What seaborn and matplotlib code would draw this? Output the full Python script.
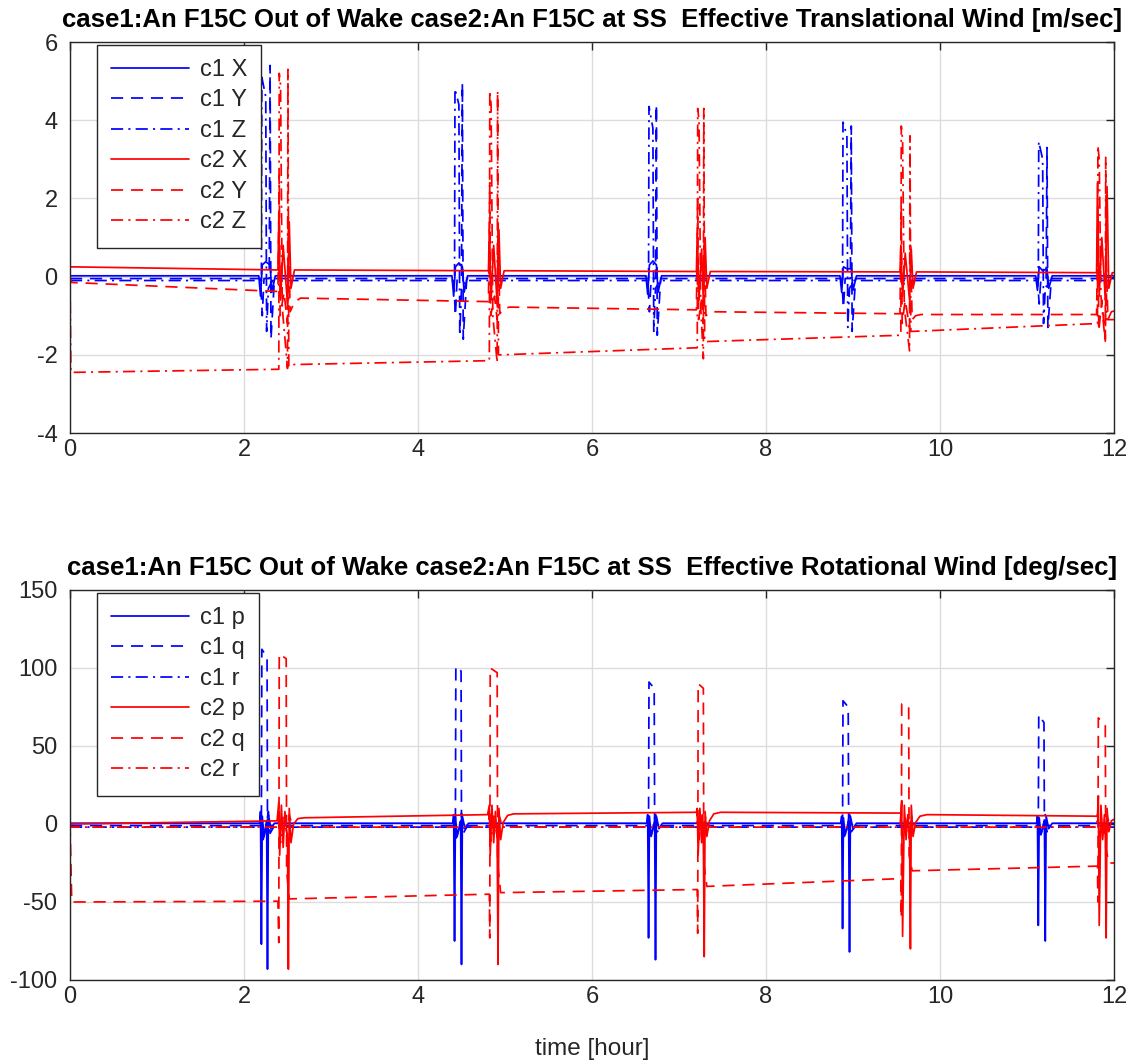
import numpy as np
import pandas as pd
import matplotlib
matplotlib.use("Agg")
import matplotlib.pyplot as plt
import seaborn as sns

# ---------------- data: top panel (translational wind, m/sec) ----------------
T_C1X = [0.0,
         2.17, 2.19, 2.21, 2.25, 2.30, 2.32, 2.36,
         4.39, 4.41, 4.43, 4.47, 4.51, 4.53, 4.57,
         6.62, 6.64, 6.66, 6.70, 6.74, 6.76, 6.80,
         8.85, 8.87, 8.89, 8.93, 8.98, 9.00, 9.04,
         11.10, 11.12, 11.14, 11.18, 11.23, 11.25, 11.29,
         12.0]
V_C1X = [0.02,
         0.02, -0.5, 0.3, 0.38, 0.3, -0.4, 0.02,
         0.02, -0.5, 0.25, 0.35, 0.25, -0.4, 0.02,
         0.02, -0.45, 0.3, 0.4, 0.3, -0.4, 0.02,
         0.02, -0.4, 0.25, 0.2, 0.2, -0.35, 0.02,
         0.02, -0.35, 0.25, 0.15, 0.2, -0.3, 0.02,
         0.02]

T_C1Y = [0.0,
         2.19, 2.21, 2.23, 2.29, 2.30, 2.31, 2.35,
         4.41, 4.43, 4.45, 4.50, 4.51, 4.52, 4.56,
         6.64, 6.66, 6.68, 6.73, 6.74, 6.75, 6.79,
         8.87, 8.89, 8.91, 8.97, 8.98, 8.99, 9.03,
         11.12, 11.14, 11.16, 11.22, 11.23, 11.24, 11.28,
         12.0]
V_C1Y = [-0.05,
         -0.05, -1.0, -0.05, -0.05, 5.4, -1.6, -0.05,
         -0.05, -1.0, -0.05, -0.05, 4.95, -1.6, -0.05,
         -0.05, -0.9, -0.05, -0.05, 4.4, -1.5, -0.05,
         -0.05, -0.8, -0.05, -0.05, 3.85, -1.4, -0.05,
         -0.05, -0.7, -0.05, -0.05, 3.3, -1.3, -0.05,
         -0.05]

T_C1Z = [0.0,
         2.20, 2.205, 2.25, 2.26, 2.28, 2.33,
         4.42, 4.425, 4.47, 4.48, 4.50, 4.55,
         6.65, 6.655, 6.70, 6.71, 6.73, 6.78,
         8.88, 8.885, 8.93, 8.94, 8.96, 9.01,
         11.13, 11.135, 11.18, 11.19, 11.21, 11.26,
         12.0]
V_C1Z = [-0.1,
         -0.1, 5.1, 4.6, -1.4, -0.3, -0.1,
         -0.1, 4.8, 4.4, -1.5, -0.3, -0.1,
         -0.1, 4.35, 3.8, -1.4, -0.3, -0.1,
         -0.1, 3.95, 3.6, -1.3, -0.3, -0.1,
         -0.1, 3.45, 3.0, -1.2, -0.3, -0.1,
         -0.1]

T_C2X = [0.0,
         2.39, 2.40, 2.42, 2.45, 2.50, 2.52, 2.54, 2.58,
         4.81, 4.82, 4.84, 4.87, 4.91, 4.93, 4.95, 4.99,
         7.20, 7.21, 7.23, 7.26, 7.28, 7.30, 7.32, 7.36,
         9.54, 9.55, 9.57, 9.60, 9.65, 9.67, 9.69, 9.73,
         11.80, 11.81, 11.83, 11.86, 11.90, 11.92, 11.94, 11.98,
         12.0]
V_C2X = [0.25,
         0.17, 1.4, -0.6, 0.8, -0.7, 1.4, -0.3, 0.17,
         0.15, 1.2, -0.6, 0.8, -0.7, 1.2, -0.3, 0.15,
         0.13, 1.1, -0.6, 0.7, -0.6, 1.0, -0.3, 0.13,
         0.12, 0.8, -0.5, 0.6, -0.6, 0.7, -0.3, 0.12,
         0.10, 2.4, -0.5, 1.0, -0.6, 2.3, -0.3, 0.10,
         0.10]

T_C2Y = [0.0, 0.02,
         2.39, 2.405, 2.415, 2.46, 2.50, 2.51, 2.53, 2.58, 2.65,
         4.81, 4.825, 4.835, 4.88, 4.91, 4.92, 4.94, 4.99, 5.05,
         7.20, 7.215, 7.225, 7.26, 7.28, 7.29, 7.31, 7.36, 7.42,
         9.54, 9.555, 9.565, 9.60, 9.65, 9.66, 9.68, 9.72, 9.78,
         11.80, 11.815, 11.825, 11.86, 11.90, 11.91, 11.93, 11.97,
         12.0]
V_C2Y = [0.0, -0.15,
         -0.38, 2.6, -1.0, -0.4, -1.2, 1.5, -0.9, -0.65, -0.55,
         -0.64, 2.4, -1.0, -0.5, -1.1, 1.3, -0.95, -0.82, -0.78,
         -0.85, 2.0, -1.1, -0.6, -1.2, 1.0, -1.0, -0.92, -0.9,
         -0.95, 1.8, -1.2, -0.6, -1.3, 0.8, -1.1, -1.0, -0.97,
         -0.97, 1.5, -1.4, -0.6, -1.6, 0.6, -1.1, -0.9,
         -0.88]

T_C2Z = [0.0, 0.01,
         2.40, 2.405, 2.42, 2.44, 2.50, 2.505, 2.515, 2.55,
         4.82, 4.825, 4.84, 4.86, 4.91, 4.915, 4.925, 4.96,
         7.21, 7.215, 7.23, 7.25, 7.28, 7.285, 7.295, 7.33,
         9.55, 9.555, 9.57, 9.59, 9.65, 9.655, 9.665, 9.70,
         11.81, 11.815, 11.83, 11.85, 11.90, 11.905, 11.915,
         12.0]
V_C2Z = [0.0, -2.45,
         -2.37, 5.2, 4.9, -0.8, -2.35, 5.3, -2.3, -2.25,
         -2.15, 4.75, 4.4, -1.0, -2.2, 4.75, -2.0, -2.0,
         -1.82, 4.3, 4.0, -0.8, -2.1, 4.3, -1.66, -1.66,
         -1.5, 3.85, 3.5, -0.8, -1.9, 3.6, -1.4, -1.4,
         -1.2, 3.35, 3.0, -0.5, -1.7, 3.05, -1.1,
         -1.1]

# ---------------- data: bottom panel (rotational wind, deg/sec) ----------------
T_C1P = [0.0,
         2.18, 2.19, 2.20, 2.21, 2.23, 2.26, 2.27, 2.28, 2.31, 2.35,
         4.40, 4.41, 4.42, 4.43, 4.45, 4.49, 4.50, 4.51, 4.54, 4.58,
         6.63, 6.64, 6.65, 6.66, 6.68, 6.72, 6.73, 6.74, 6.77, 6.81,
         8.86, 8.87, 8.88, 8.89, 8.91, 8.95, 8.96, 8.97, 9.00, 9.04,
         11.11, 11.12, 11.13, 11.14, 11.16, 11.20, 11.21, 11.22, 11.25, 11.29,
         12.0]
V_C1P = [0.5,
         0.5, 8, -77, 5, -8, 2, -93, 6, -3, 0.5,
         0.5, 6, -75, 5, -8, 2, -90, 5, -3, 0.5,
         0.5, 6, -73, 5, -8, 2, -87, 5, -3, 0.5,
         0.5, 5, -67, 4, -7, 2, -82, 5, -3, 0.5,
         0.5, 5, -65, 4, -7, 2, -75, 5, -3, 0.5,
         0.5]

T_C1Q = [0.0,
         2.20, 2.205, 2.265, 2.27,
         4.43, 4.435, 4.495, 4.50,
         6.65, 6.655, 6.715, 6.72,
         8.88, 8.885, 8.945, 8.95,
         11.13, 11.135, 11.195, 11.20,
         12.0]
V_C1Q = [-1,
         -1, 112, 107, -1,
         -1, 101, 98, -1,
         -1, 91, 87, -1,
         -1, 79, 75, -1,
         -1, 70, 65, -1,
         -1]

T_C1R = [0.0,
         2.19, 2.20, 2.22, 2.25, 2.28, 2.30, 2.34,
         4.41, 4.42, 4.44, 4.47, 4.50, 4.52, 4.56,
         6.64, 6.65, 6.67, 6.70, 6.73, 6.75, 6.79,
         8.87, 8.88, 8.90, 8.93, 8.96, 8.98, 9.02,
         11.12, 11.13, 11.15, 11.18, 11.21, 11.23, 11.27,
         12.0]
V_C1R = [-2,
         -2, 5, -10, -3, 8, -6, -2,
         -2, 5, -9, -3, 7, -6, -2,
         -2, 5, -9, -3, 7, -5, -2,
         -2, 4, -8, -3, 6, -5, -2,
         -2, 4, -8, -3, 6, -5, -2,
         -2]

T_C2P = [0.0,
         2.38, 2.40, 2.41, 2.43, 2.45, 2.47, 2.50, 2.51, 2.52, 2.54, 2.57, 2.62, 2.70,
         4.80, 4.82, 4.83, 4.85, 4.87, 4.89, 4.91, 4.92, 4.93, 4.95, 4.98, 5.03, 5.10,
         7.20, 7.21, 7.22, 7.24, 7.26, 7.27, 7.28, 7.29, 7.30, 7.32, 7.35, 7.40, 7.48,
         9.55, 9.56, 9.57, 9.59, 9.61, 9.63, 9.65, 9.66, 9.67, 9.69, 9.72, 9.77, 9.85,
         11.81, 11.82, 11.83, 11.85, 11.87, 11.89, 11.90, 11.91, 11.92, 11.94, 11.97,
         12.0]
V_C2P = [0,
         2, 14, -20, 12, -15, 8, -10, -93, 10, -12, 0, 3.5, 4,
         6, 12, -20, 12, -12, 8, -10, -90, 10, -10, 1, 5.5, 6.5,
         7.5, 10, -20, 10, -12, 6, -8, -85, 8, -8, 2, 6.5, 7.5,
         7, 15, -72, 12, -10, 6, -5, -80, 12, -8, 1, 5, 6,
         5, 18, -65, 12, -10, 6, -5, -73, 10, -5, 2,
         3]

T_C2Q = [0.0, 0.02,
         2.39, 2.40, 2.405, 2.485, 2.49, 2.52,
         4.82, 4.825, 4.83, 4.91, 4.915, 4.95,
         7.21, 7.215, 7.22, 7.28, 7.285, 7.32,
         9.55, 9.555, 9.56, 9.64, 9.645, 9.68,
         11.81, 11.815, 11.82, 11.90, 11.905, 11.94,
         12.0]
V_C2Q = [0, -50,
         -49.5, -76, 109, 106, -30, -48,
         -45, -73, 100, 97, -25, -44,
         -42, -70, 90, 87, -25, -40,
         -35, -60, 77, 75, -20, -30,
         -27, -50, 68, 63, -15, -25,
         -25]

T_C2R = [0.0, 0.01,
         2.39, 2.40, 2.42, 2.45, 2.50, 2.52, 2.56,
         4.81, 4.82, 4.84, 4.87, 4.91, 4.93, 4.97,
         7.20, 7.21, 7.23, 7.26, 7.28, 7.30, 7.34,
         9.54, 9.55, 9.57, 9.60, 9.65, 9.67, 9.71,
         11.80, 11.81, 11.83, 11.86, 11.90, 11.92, 11.96,
         12.0]
V_C2R = [0, -2,
         -2, 8, -12, 5, -8, 6, -2,
         -2, 7, -11, 5, -8, 6, -2,
         -2, 7, -10, 5, -7, 5, -2,
         -2, 6, -9, 4, -7, 5, -2,
         -2, 6, -9, 4, -7, 5, -2,
         -2]

TITLE_TOP = "case1:An F15C Out of Wake case2:An F15C at SS  Effective Translational Wind [m/sec]"
TITLE_BOT = "case1:An F15C Out of Wake case2:An F15C at SS  Effective Rotational Wind [deg/sec]"
XLABEL = "time [hour]"
X_TICKS = [0, 2, 4, 6, 8, 10, 12]
Y_TICKS_TOP = [-4, -2, 0, 2, 4, 6]
Y_TICKS_BOT = [-100, -50, 0, 50, 100, 150]

# ---------------- styling ----------------
sns.set_style("white")
plt.rcParams['font.family'] = ['Liberation Sans', 'DejaVu Sans']

BLUE = (0, 0, 1)
RED = (1, 0, 0)
SOLID = '-'
DASH = (0, (7, 4.5))
DASHDOT = (0, (7, 3, 1.2, 3))
LW = 1.25

fig = plt.figure(figsize=(11.35, 10.63), dpi=100)
ax1 = fig.add_axes([70 / 1135, 1 - 433 / 1063, 1044 / 1135, 391 / 1063])
ax2 = fig.add_axes([70 / 1135, 1 - 980 / 1063, 1044 / 1135, 390 / 1063])

top_series = [
    (T_C1X, V_C1X, BLUE, SOLID, "c1 X"),
    (T_C1Y, V_C1Y, BLUE, DASH, "c1 Y"),
    (T_C1Z, V_C1Z, BLUE, DASHDOT, "c1 Z"),
    (T_C2X, V_C2X, RED, SOLID, "c2 X"),
    (T_C2Y, V_C2Y, RED, DASH, "c2 Y"),
    (T_C2Z, V_C2Z, RED, DASHDOT, "c2 Z"),
]
bot_series = [
    (T_C1P, V_C1P, BLUE, SOLID, "c1 p"),
    (T_C1Q, V_C1Q, BLUE, DASH, "c1 q"),
    (T_C1R, V_C1R, BLUE, DASHDOT, "c1 r"),
    (T_C2P, V_C2P, RED, SOLID, "c2 p"),
    (T_C2Q, V_C2Q, RED, DASH, "c2 q"),
    (T_C2R, V_C2R, RED, DASHDOT, "c2 r"),
]


def draw(ax, series, yticks, title):
    for t, v, c, ls, lab in series:
        df = pd.DataFrame({"t": t, "v": v})
        sns.lineplot(data=df, x="t", y="v", ax=ax, sort=False, estimator=None,
                     color=c, linestyle=ls, linewidth=LW, label=lab)
    ax.set_xlim(0, 12)
    ax.set_ylim(yticks[0], yticks[-1])
    ax.set_xticks(X_TICKS)
    ax.set_yticks(yticks)
    ax.set_xticklabels([str(x) for x in X_TICKS])
    ax.set_yticklabels([str(y) for y in yticks])
    ax.grid(True, color='#dcdcdc', linewidth=1.0)
    ax.set_axisbelow(True)
    for s in ax.spines.values():
        s.set_color('#262626')
        s.set_linewidth(1.0)
    ax.tick_params(direction='in', length=6, width=1.0, colors='#262626',
                   labelsize=17, top=True, right=True)
    ax.tick_params(axis='y', pad=9)
    ax.tick_params(axis='x', pad=4)
    ax.set_xlabel("")
    ax.set_ylabel("")
    ax.set_title(title, fontsize=18.5, fontweight='bold', color='black', pad=11)
    leg = ax.legend(loc='upper left', bbox_to_anchor=(0.026, 0.993),
                    frameon=True, fancybox=False, framealpha=1,
                    edgecolor='#262626', fontsize=17, handlelength=3.3,
                    labelspacing=0.36, borderpad=0.6, handletextpad=0.45,
                    borderaxespad=0)
    leg.get_frame().set_linewidth(1.0)


draw(ax1, top_series, Y_TICKS_TOP, TITLE_TOP)
draw(ax2, bot_series, Y_TICKS_BOT, TITLE_BOT)
ax2.set_xlabel(XLABEL, fontsize=17.5, color='#262626', labelpad=22)

fig.savefig("out.png", dpi=100)
